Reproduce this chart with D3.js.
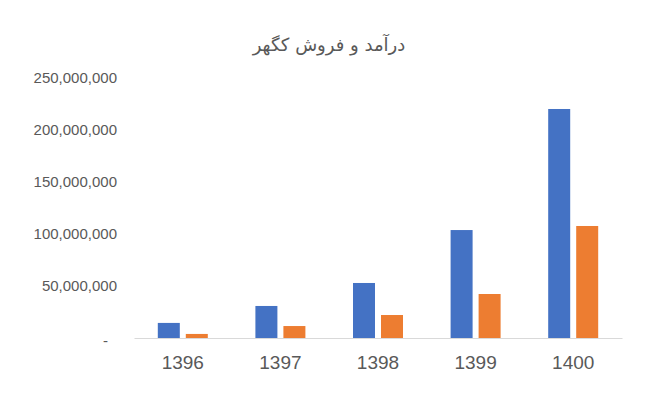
<!DOCTYPE html>
<html><head><meta charset="utf-8">
<script src="https://cdn.jsdelivr.net/npm/d3@7/dist/d3.min.js"></script>
<style>
html,body{margin:0;padding:0;background:#fff;}
svg{display:block;}
</style></head>
<body>
<svg id="chart" width="658" height="413"></svg>
<script>
const categories = ["1396", "1397", "1398", "1399", "1400"];
const seriesNames = ["درآمد", "فروش"];
const revenue = [14500000, 30800000, 52900000, 103800000, 220200000];
const sales = [3900000, 11500000, 22100000, 42300000, 107700000];
const yTicks = [0, 50000000, 100000000, 150000000, 200000000, 250000000];
const title = "درآمد و فروش کگهر";
const colors = ["#4472C4", "#ED7D31"];

const svg = d3.select("#chart");
const W = 658, H = 413;
const m = {left: 134, right: 36, top: 78.5, bottom: 75};
const x = d3.scaleBand().domain(categories).range([m.left, W - m.right]).paddingInner(0).paddingOuter(0);
const y = d3.scaleLinear().domain([0, 250000000]).range([338, 78]);

svg.append("rect").attr("width", W).attr("height", H).attr("fill", "#fff");

svg.append("text").attr("x", 329).attr("y", 51).attr("text-anchor", "middle")
  .attr("font-family", "'DejaVu Sans', 'Noto Sans', sans-serif").attr("font-size", 18)
  .attr("fill", "#595959").attr("direction", "rtl").text(title);

const fmt = d3.format(",");
const yAxis = d3.axisLeft(y).tickValues(yTicks).tickSize(0).tickPadding(17)
  .tickFormat(d => d === 0 ? "-" : fmt(d));
const gy = svg.append("g").attr("transform", `translate(${m.left},0)`).call(yAxis);
gy.select(".domain").remove();
gy.selectAll("text").attr("font-family", "'Liberation Sans', Arial, sans-serif")
  .attr("font-size", 15).attr("fill", "#595959");
gy.selectAll(".tick").filter(d => d === 0).select("text").attr("dx", -9).attr("dy", "0.5em");

const barW = 22, gap = 6;
const series = [revenue, sales];
series.forEach((vals, si) => {
  svg.append("g").selectAll("rect").data(vals).join("rect")
    .attr("x", (d, i) => x(categories[i]) + x.bandwidth() / 2 + (si === 0 ? -gap / 2 - barW : gap / 2))
    .attr("width", barW)
    .attr("y", d => y(d))
    .attr("height", d => y(0) - y(d))
    .attr("fill", colors[si]);
});

const xAxis = d3.axisBottom(x).tickSize(0).tickPadding(18);
const gx = svg.append("g").attr("transform", `translate(0,${y(0)})`).call(xAxis);
gx.select(".domain").attr("stroke", "#D9D9D9").attr("stroke-width", 1);
gx.selectAll("text").attr("font-family", "'Liberation Sans', Arial, sans-serif")
  .attr("font-size", 19).attr("fill", "#595959");
</script>
</body></html>
